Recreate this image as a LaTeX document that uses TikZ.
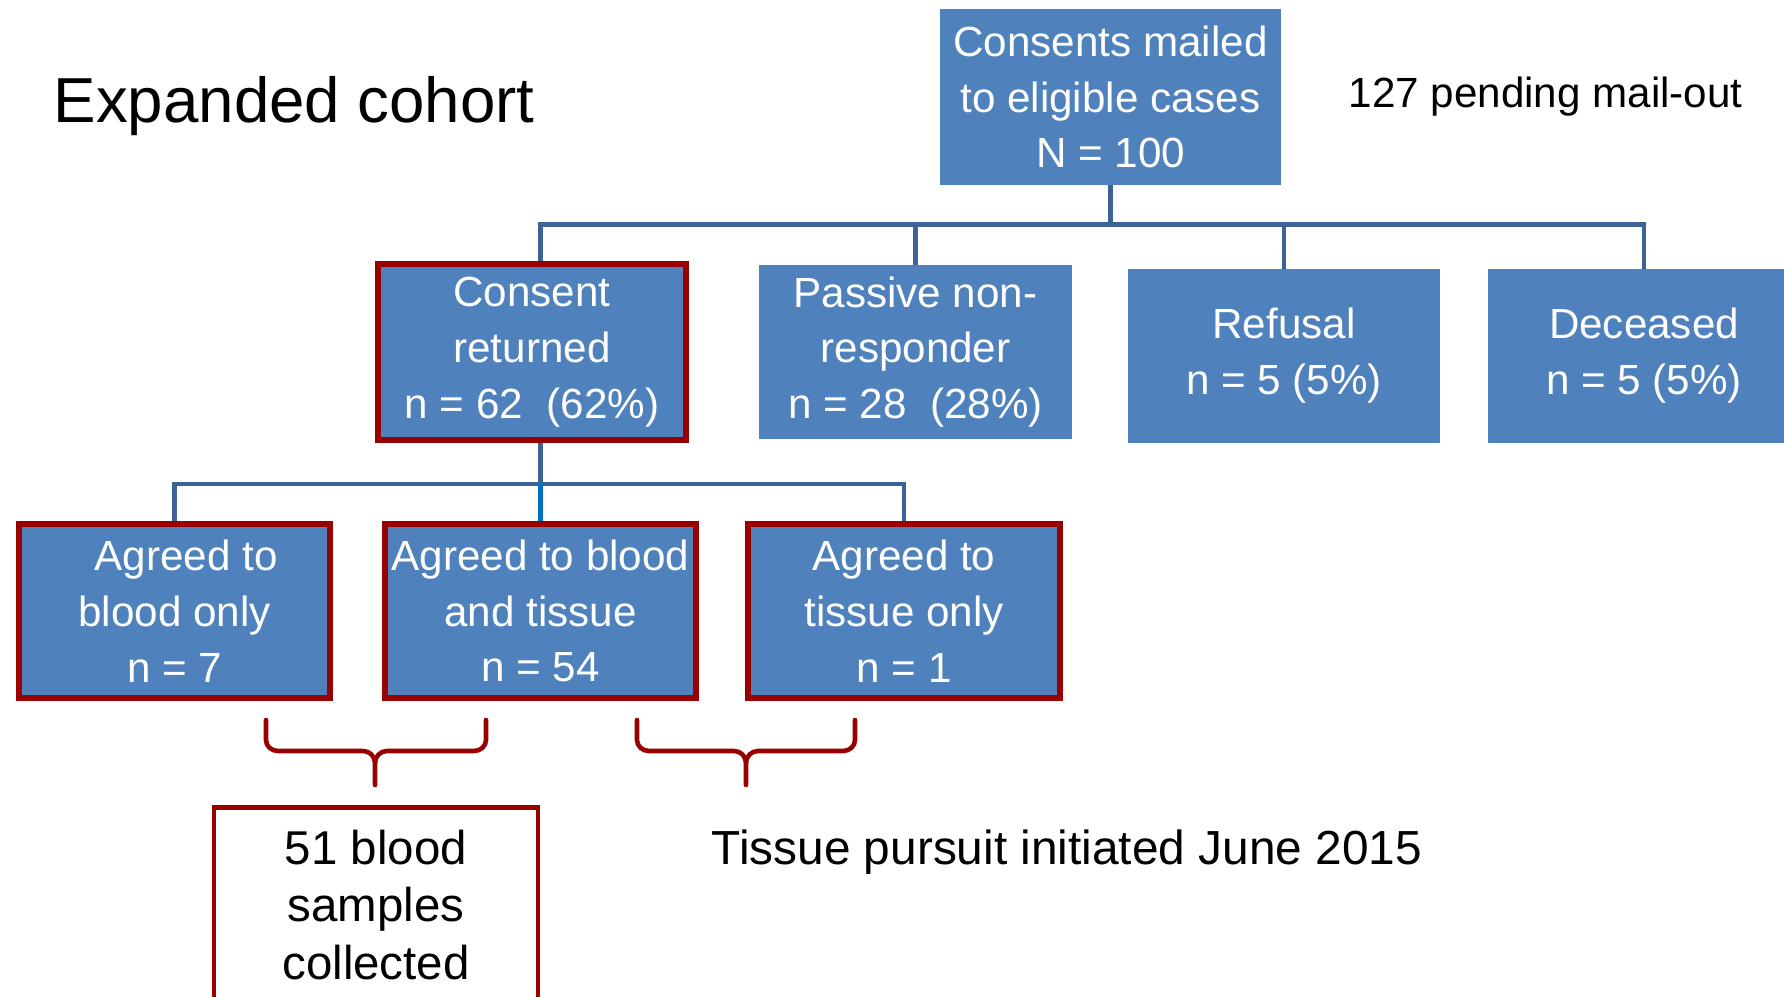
\documentclass[tikz,border=0pt]{standalone}
\usepackage{fontspec}
\setmainfont{Liberation Sans}
\usepackage{tikz}
\usetikzlibrary{calc,positioning}

\definecolor{boxblue}{HTML}{4F81BD}
\definecolor{linkblue}{HTML}{3B6396}
\definecolor{brightblue}{HTML}{0070C0}
\definecolor{darkred}{RGB}{153,0,0}

\begin{document}
\begin{tikzpicture}[
    box/.style={fill=boxblue, draw=boxblue, text=white, inner sep=0pt, align=center,
        font=\fontsize{12}{15.9}\selectfont},
    redbox/.style={box, draw=darkred, line width=1.6pt},
    link/.style={draw=linkblue, line width=1.3pt},
    bracket/.style={draw=darkred, line width=1.3pt, line cap=round},
    plain/.style={inner sep=0pt, anchor=base west}
]
    \clip (0,0) rectangle (17.84,-9.97);
    \node[plain, font=\fontsize{18.1}{22}\selectfont] (title) at (0.53,-1.23) {Expanded cohort};
    \node[plain, font=\fontsize{12}{15}\selectfont] (pending) at (13.48,-1.08) {127 pending mail-out};
    \node[box, minimum width=3.39cm, minimum height=1.74cm] (mailed) at (11.105,-0.97) {Consents mailed\\to eligible cases\\N = 100};
    \node[redbox, minimum width=3.08cm, minimum height=1.76cm] (consent) at (5.32,-3.52) {Consent\\returned\\n = 62\ \ (62\%)};
    \node[box, minimum width=3.11cm, minimum height=1.73cm] (passive) at (9.155,-3.52) {Passive non-\\responder\\n = 28\ \ (28\%)};
    \node[box, minimum width=3.10cm, minimum height=1.73cm] (refusal) at (12.84,-3.56) {Refusal\\n = 5 (5\%)};
    \node[box, minimum width=3.10cm, minimum height=1.73cm] (deceased) at (16.44,-3.56) {Deceased\\n = 5 (5\%)};
    \node[redbox, minimum width=3.11cm, minimum height=1.74cm] (bloodonly) at (1.745,-6.11) {\ \ Agreed to\\blood only\\n = 7};
    \node[redbox, minimum width=3.11cm, minimum height=1.74cm] (bloodtissue) at (5.405,-6.11) {Agreed to blood\\and tissue\\n = 54};
    \node[redbox, minimum width=3.12cm, minimum height=1.74cm] (tissueonly) at (9.04,-6.11) {Agreed to\\tissue only\\n = 1};
    \node[draw=darkred, line width=1.3pt, fill=white, inner sep=0pt, align=center, minimum width=3.24cm, minimum height=1.95cm,
        font=\fontsize{13.5}{16.4}\selectfont] (collected) at (3.76,-9.05) {51 blood\\samples\\collected};
    \node[plain, font=\fontsize{13.6}{16}\selectfont] (pursuit) at (7.11,-8.65) {Tissue pursuit initiated June 2015};

    \draw[link] (mailed.south) -- ++(0,-0.40) coordinate (bus1);
    \draw[link] (consent.north -| bloodtissue.north) |- (bus1) -| (deceased.north);
    \draw[link] (passive.north) -- (passive.north |- bus1);
    \draw[link] (refusal.north) -- (refusal.north |- bus1);
    \draw[link] (consent.south -| bloodtissue.north) -- ++(0,-0.41) coordinate (bus2);
    \draw[link] (bloodonly.north) |- (bus2) -| (tissueonly.north);
    \draw[draw=brightblue, line width=1.3pt] (bus2) -- (bloodtissue.north);

    \begin{scope}
        \draw[bracket] (2.66,-7.20) -- (2.66,-7.40) to[out=-90, in=180] (2.78,-7.51) -- (3.63,-7.51) to[out=0, in=90] (3.75,-7.63) -- (3.75,-7.85);
        \draw[bracket] (4.86,-7.20) -- (4.86,-7.40) to[out=-90, in=0] (4.74,-7.51) -- (3.87,-7.51) to[out=180, in=90] (3.75,-7.63);
    \end{scope}
    \begin{scope}[shift={(3.71,0)}]
        \draw[bracket] (2.66,-7.20) -- (2.66,-7.40) to[out=-90, in=180] (2.78,-7.51) -- (3.63,-7.51) to[out=0, in=90] (3.75,-7.63) -- (3.75,-7.85);
        \draw[bracket] (4.84,-7.20) -- (4.84,-7.40) to[out=-90, in=0] (4.72,-7.51) -- (3.87,-7.51) to[out=180, in=90] (3.75,-7.63);
    \end{scope}
\end{tikzpicture}
\end{document}
